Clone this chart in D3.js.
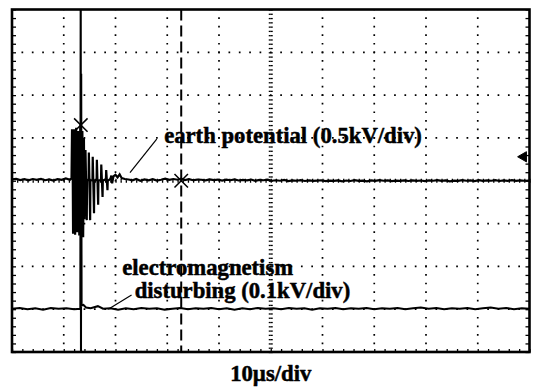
<!DOCTYPE html>
<html>
<head>
<meta charset="utf-8">
<script src="https://cdn.jsdelivr.net/npm/d3@7"></script>
<style>
  body { margin: 0; background: #fff; }
  svg { display: block; }
  .label { font-family: "Liberation Serif", "Times New Roman", serif; font-weight: bold; font-size: 22.7px; fill: #000; stroke: #000; stroke-width: 0.5; }
</style>
</head>
<body>
<div id="chart"></div>
<script>
// graticule: 10 time divisions (10 µs/div), 8 vertical divisions
const timeTicks = d3.range(0, 101, 10);
const divTicks = d3.range(-4, 5, 1);

// earth potential [µs, kV], 0.5 kV/div, on the centre line
const earthScale = 0.5, earthOffset = 0;
const earthBefore = [[0, 0.015], [0.8, 0.022], [1.6, 0.008], [2.4, 0.018], [3.2, 0.004], [4, 0.02], [4.8, 0.01],
  [5.6, 0.022], [6.4, 0.006], [7.2, 0.016], [8, 0.002], [8.8, 0.018], [9.6, 0.01], [10.4, 0.028], [11.2, 0.012]];
const earthSpike = [[11.5, 0.03], [11.6, 0.6], [11.7, 0.5], [11.8, -0.62], [12.0, 0.6], [12.2, -0.63], [12.4, 0.62],
  [12.6, -0.6], [12.8, 0.58], [13.0, -0.64], [13.2, 0.62], [13.3, 0.65], [13.4, -0.66], [13.6, 0.58], [13.75, -0.66],
  [13.9, 0.5], [14.0, -0.45], [14.05, 0.02], [14.15, 0.0],
  [14.2, 0.36], [14.45, -0.46], [14.5, 0.0], [14.8, 0.02],
  [14.85, 0.33], [15.1, -0.46], [15.15, 0.0], [15.55, 0.01],
  [15.6, 0.28], [15.85, -0.38], [15.9, 0.0], [16.35, 0.01],
  [16.4, 0.245], [16.65, -0.28], [16.7, 0.0], [17.2, 0.01],
  [17.25, 0.19], [17.5, -0.19], [17.55, 0.0], [18.15, 0.02],
  [18.2, 0.125], [18.45, -0.11], [18.5, 0.0], [19.0, 0.02],
  [19.2, 0.06], [19.35, -0.03], [19.6, 0.05], [20.0, 0.07], [20.4, 0.04], [20.8, 0.075], [21.2, 0.03], [21.8, 0.02]];
const earthAfter = [[22.5, 0.015], [23.3, 0.005], [24, 0.02], [24.8, 0.0], [25.6, 0.015], [26.4, 0.005], [27.2, 0.018],
  [28, 0.002], [28.8, 0.012], [29.6, 0.025], [30.4, 0.01], [31.2, 0.02], [32, 0.012], [32.7, 0.025], [33.4, 0.008],
  [34.2, 0.018], [35, 0.006], [35.8, 0.014], [36.6, 0.012], [37.4, 0.004], [38.2, 0.016], [39, 0.008], [39.8, 0.014],
  [40.6, 0.002], [41.4, 0.012], [42.2, 0.006], [43, 0.015], [43.8, 0.003], [44.6, 0.01], [45.4, 0.005], [46.2, 0.014],
  [47, 0.0], [47.8, 0.01], [48.6, 0.006], [49.4, 0.012], [50.2, 0.0], [51, 0.006], [51.8, 0.0], [52.6, 0.009],
  [53.4, -0.004], [54.2, 0.004], [55, 0.0], [55.8, 0.006], [56.6, -0.003], [57.4, 0.004], [58.2, -0.002], [59, 0.002],
  [59.8, 0.006], [60.6, -0.004], [61.4, 0.002], [62.2, -0.002], [63, 0.004], [63.8, -0.006], [64.6, 0.003],
  [65.4, -0.003], [66.2, 0.006], [67, -0.002], [67.8, 0.002], [68.6, -0.006], [69.4, 0.004], [70.2, -0.002],
  [71, 0.006], [71.8, 0.0], [72.6, 0.004], [73.4, -0.004], [74.2, 0.002], [75, -0.002], [75.8, 0.004], [76.6, -0.003],
  [77.4, 0.005], [78.2, -0.001], [79, 0.003], [79.8, -0.004], [80.6, 0.004], [81.4, 0.0], [82.2, 0.006], [83, -0.002],
  [83.8, 0.004], [84.6, -0.006], [85.4, 0.002], [86.2, -0.002], [87, 0.006], [87.8, 0.0], [88.6, 0.004], [89.4, -0.004],
  [90.2, 0.006], [91, -0.002], [91.8, 0.004], [92.6, 0.0], [93.4, 0.006], [94.2, -0.003], [95, 0.004], [95.8, -0.001],
  [96.6, 0.006], [97.4, -0.002], [98.2, 0.004], [99, 0.0], [100, 0.002]];

// electromagnetism disturbing [µs, kV], 0.1 kV/div, baseline three divisions below centre
const emScale = 0.1, emOffset = -3;
const emTrace = [[0, 0.001], [1.5, 0.003], [3, 0.0], [4.5, 0.002], [6, -0.001], [7.5, 0.003], [9, 0.001], [10.5, 0.002],
  [12, 0.0], [13.2, 0.001], [13.28, 0.9], [13.33, -0.2], [13.38, 0.55], [13.45, 0.009], [13.8, 0.01], [14.3, 0.004],
  [15.2, 0.002], [16.6, 0.007], [17.6, 0.001], [19, 0.002], [20.5, -0.001], [22, 0.002], [23.5, 0.0], [25, 0.003],
  [26.5, 0.001], [28, 0.002], [29.5, -0.001], [31, 0.001], [32.5, 0.003], [34, 0.0], [35.5, 0.002], [37, 0.001],
  [38.5, 0.003], [40, 0.0], [41.5, 0.002], [43, -0.001], [44.5, 0.002], [46, 0.0], [47.5, 0.003], [49, 0.001],
  [50.5, 0.002], [52, 0.0], [53.5, 0.003], [55, 0.001], [56.5, 0.002], [58, -0.001], [59.5, 0.002], [61, 0.001],
  [62.5, 0.003], [64, 0.0], [65.5, 0.002], [67, 0.001], [68.5, 0.003], [70, 0.0], [71.5, 0.002], [73, 0.001],
  [74.5, 0.003], [76, 0.0], [77.5, 0.002], [79, 0.004], [80.5, 0.001], [82, 0.003], [83.5, 0.0], [85, 0.002],
  [86.5, 0.001], [88, 0.003], [89.5, 0.0], [91, 0.002], [92.5, 0.004], [94, 0.001], [95.5, 0.003], [97, 0.0],
  [98.5, 0.002], [100, 0.001]];

// cursors and markers
const cursorTime = 32.7;
const markers = [[13.3, 0.65], [32.7, 0.0]];
const triggerKV = 0.28;

// annotations, in (µs, div)
const labels = ["earth potential (0.5kV/div)", "electromagnetism", "disturbing (0.1kV/div)"];
const labelAt = [[29.4, 0.89], [21.3, -2.2], [23.7, -2.74]];
const leaders = [[[22.8, 0.19], [27.96, 0.97]], [[18.6, -3.0], [23.1, -2.67]]];
const xTitle = "10µs/div";

const earthTrace = earthBefore.concat(earthSpike, earthAfter);

const width = 535, height = 388;
const plot = {left: 12, right: 529.5, top: 9.5, bottom: 352};

const svg = d3.select("#chart").append("svg")
  .attr("width", width)
  .attr("height", height);

const x = d3.scaleLinear().domain([0, 100]).range([plot.left, plot.right]);
const y = d3.scaleLinear().domain([-4, 4]).range([plot.bottom, plot.top]);

const minorY = (y(0) - y(1)) / 5;
const minorX = (x(10) - x(0)) / 5;

// dotted graticule
svg.append("g").selectAll("line")
  .data(timeTicks.filter(t => t > 0 && t < 100 && t !== 50))
  .join("line")
  .attr("x1", d => x(d)).attr("x2", d => x(d))
  .attr("y1", plot.top).attr("y2", plot.bottom)
  .attr("stroke", "#000").attr("stroke-width", 1.7)
  .attr("stroke-dasharray", `1.7 ${minorY - 1.7}`)
  .attr("stroke-dashoffset", 0.85);

svg.append("g").selectAll("line")
  .data(divTicks.filter(d => d > -4 && d < 4 && d !== 0))
  .join("line")
  .attr("y1", d => y(d)).attr("y2", d => y(d))
  .attr("x1", plot.left).attr("x2", plot.right)
  .attr("stroke", "#000").attr("stroke-width", 1.7)
  .attr("stroke-dasharray", `1.7 ${minorX - 1.7}`)
  .attr("stroke-dashoffset", 0.85);

// centre axes and edge ticks
function tickAxis(axis, transform) {
  const g = svg.append("g").attr("transform", transform).call(axis);
  g.select(".domain").remove();
  g.selectAll("line").attr("stroke", "#000").attr("stroke-width", 1.3);
  return g;
}
const halfDivs = d3.range(-4, 4.001, 0.1);
const fifthDivs = d3.range(-4, 4.001, 0.2);
const halfTimes = d3.range(0, 100.001, 1);
const fifthTimes = d3.range(0, 100.001, 2);

tickAxis(d3.axisLeft(y).tickValues(halfDivs).tickSize(2).tickSizeOuter(0).tickFormat(""), `translate(${x(50)},0)`);
tickAxis(d3.axisRight(y).tickValues(halfDivs).tickSize(2).tickSizeOuter(0).tickFormat(""), `translate(${x(50)},0)`);
tickAxis(d3.axisTop(x).tickValues(halfTimes).tickSize(2).tickSizeOuter(0).tickFormat(""), `translate(0,${y(0)})`);
tickAxis(d3.axisBottom(x).tickValues(halfTimes).tickSize(2).tickSizeOuter(0).tickFormat(""), `translate(0,${y(0)})`);
tickAxis(d3.axisRight(y).tickValues(fifthDivs).tickSize(4).tickSizeOuter(0).tickFormat(""), `translate(${plot.left},0)`);
tickAxis(d3.axisLeft(y).tickValues(fifthDivs).tickSize(4).tickSizeOuter(0).tickFormat(""), `translate(${plot.right},0)`);
tickAxis(d3.axisTop(x).tickValues(fifthTimes).tickSize(3).tickSizeOuter(0).tickFormat(""), `translate(0,${plot.bottom})`);

// cursor
svg.append("line")
  .attr("x1", x(cursorTime)).attr("x2", x(cursorTime))
  .attr("y1", plot.top).attr("y2", plot.bottom)
  .attr("stroke", "#000").attr("stroke-width", 2)
  .attr("stroke-dasharray", "11 5");

// traces
svg.append("clipPath").attr("id", "clip")
  .append("rect")
  .attr("x", plot.left).attr("y", plot.top)
  .attr("width", plot.right - plot.left).attr("height", plot.bottom - plot.top);

const earthLine = d3.line()
  .x(d => x(d[0]))
  .y(d => y(d[1] / earthScale + earthOffset));
const emLine = d3.line()
  .x(d => x(d[0]))
  .y(d => y(d[1] / emScale + emOffset));

const traces = svg.append("g").attr("clip-path", "url(#clip)");
traces.append("path").datum(emTrace)
  .attr("d", emLine)
  .attr("fill", "none").attr("stroke", "#000").attr("stroke-width", 2)
  .attr("stroke-linejoin", "miter");
traces.append("path").datum(earthTrace)
  .attr("d", earthLine)
  .attr("fill", "none").attr("stroke", "#000").attr("stroke-width", 2.2)
  .attr("stroke-linejoin", "miter");

// X markers on earth trace
svg.append("g").selectAll("path")
  .data(markers)
  .join("path")
  .attr("transform", d => `translate(${x(d[0])},${y(d[1] / earthScale + earthOffset)})`)
  .attr("d", d3.symbol(d3.symbolTimes, 120))
  .attr("fill", "none").attr("stroke", "#000").attr("stroke-width", 1.5);

// trigger level mark at the right edge
svg.append("path")
  .attr("transform", `translate(${plot.right - 6},${y(triggerKV / earthScale + earthOffset)}) rotate(-90)`)
  .attr("d", d3.symbol(d3.symbolTriangle, 45))
  .attr("fill", "#000").attr("stroke", "#000").attr("stroke-width", 1);

// frame
svg.append("rect")
  .attr("x", plot.left).attr("y", plot.top)
  .attr("width", plot.right - plot.left).attr("height", plot.bottom - plot.top)
  .attr("fill", "none").attr("stroke", "#000").attr("stroke-width", 2.6);

// annotations
svg.append("g").selectAll("line")
  .data(leaders)
  .join("line")
  .attr("x1", d => x(d[0][0])).attr("y1", d => y(d[0][1]))
  .attr("x2", d => x(d[1][0])).attr("y2", d => y(d[1][1]))
  .attr("stroke", "#000").attr("stroke-width", 1.2);

svg.append("g").selectAll("text")
  .data(labels)
  .join("text")
  .attr("class", "label")
  .attr("x", (d, i) => x(labelAt[i][0]))
  .attr("y", (d, i) => y(labelAt[i][1]))
  .text(d => d);

svg.append("text")
  .attr("class", "label")
  .attr("x", x(50))
  .attr("y", 381)
  .attr("text-anchor", "middle")
  .text(xTitle);
</script>
</body>
</html>
